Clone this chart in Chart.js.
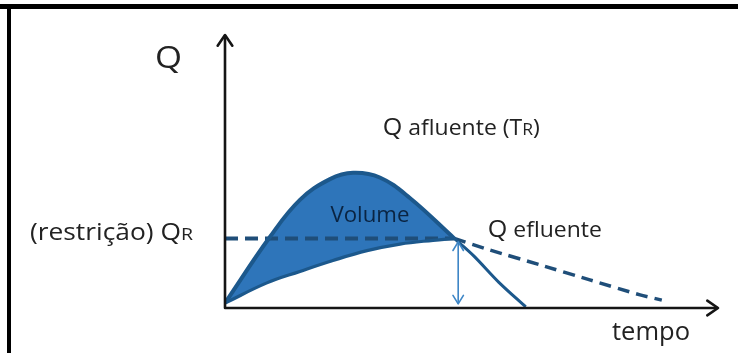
<!DOCTYPE html>
<html>
<head>
<meta charset="utf-8">
<script src="https://cdn.jsdelivr.net/npm/chart.js@4.4.1/dist/chart.umd.min.js"></script>
<style>
  html, body { margin: 0; padding: 0; background: #fff; }
  #wrap { width: 738px; height: 353px; }
</style>
</head>
<body>
<div id="wrap"><canvas id="hidro" width="738" height="353"></canvas></div>
<script>
// hidrograma afluente / efluente (unidades arbitrarias)
const inflowRiseT = [0, 0.91, 1.52, 2.13, 2.60, 3.14, 3.75, 4.65];
const inflowRiseQ = [0.18, 2.60, 3.96, 4.72, 4.95, 4.78, 4.03, 2.55];

const inflowFallT = [4.65, 5.05, 5.55, 6.10];
const inflowFallQ = [2.55, 1.90, 0.95, 0.04];

const outflowRiseT = [0, 0.85, 1.52, 2.19, 2.88, 3.55, 4.22, 4.65];
const outflowRiseQ = [0.18, 0.92, 1.34, 1.74, 2.10, 2.34, 2.48, 2.55];

const outflowFallT = [4.65, 5.38, 6.39, 7.40, 8.42, 8.86];
const outflowFallQ = [2.55, 2.12, 1.58, 1.03, 0.48, 0.29];

const restrT = [0, 4.65];
const restrQ = [2.55, 2.55];

const gapT = [4.73, 4.73];
const gapQ = [2.42, 0.15];

const axisMax = { x: 10, y: 10 };

function pts(ts, qs) {
  return ts.map((t, i) => ({ x: t, y: qs[i] }));
}

const fillBlue = 'rgb(46, 117, 186)';
const lineBlue = 'rgb(28, 88, 140)';
const dashBlue = 'rgb(31, 78, 121)';
const FONT = '"Open Sans", Lato, sans-serif';

// moldura da figura (barra superior e lateral)
const framePlugin = {
  id: 'frame',
  beforeDraw(chart) {
    const c = chart.ctx;
    c.save();
    c.fillStyle = '#000';
    c.fillRect(0, 4, chart.width, 5);
    c.fillRect(7, 4, 4, chart.height - 4);
    c.restore();
  }
};

function arrowHead(c, x, y, ang, len, spread) {
  c.beginPath();
  c.moveTo(x - len * Math.cos(ang - spread), y - len * Math.sin(ang - spread));
  c.lineTo(x, y);
  c.lineTo(x - len * Math.cos(ang + spread), y - len * Math.sin(ang + spread));
  c.stroke();
}

// eixos com setas
const axesPlugin = {
  id: 'axesArrows',
  afterDatasetsDraw(chart) {
    const c = chart.ctx;
    const xs = chart.scales.x, ys = chart.scales.y;
    const x0 = xs.getPixelForValue(0), y0 = ys.getPixelForValue(0);
    const x1 = xs.getPixelForValue(axisMax.x), y1 = ys.getPixelForValue(axisMax.y);
    c.save();
    c.strokeStyle = '#151515';
    c.lineWidth = 2.6;
    c.lineCap = 'round';
    c.lineJoin = 'round';
    c.beginPath();
    c.moveTo(x0, y1 + 1);
    c.lineTo(x0, y0);
    c.lineTo(x1 - 1, y0);
    c.stroke();
    arrowHead(c, x0, y1, -Math.PI / 2, 13, 0.6);
    arrowHead(c, x1, y0, 0, 13, 0.6);

    // seta dupla (Q efluente maximo)
    const meta = chart.getDatasetMeta(5);
    const a = meta.data[0], b = meta.data[1];
    c.strokeStyle = 'rgb(62, 134, 198)';
    c.lineWidth = 1.6;
    arrowHead(c, a.x, a.y, -Math.PI / 2, 10, 0.55);
    arrowHead(c, b.x, b.y, Math.PI / 2, 10, 0.55);
    c.restore();
  }
};

// texto com partes de tamanhos diferentes, ajustado na horizontal ate "width"
function drawParts(c, parts, x, y, align, width) {
  let w = 0;
  parts.forEach(p => { c.font = p.size + 'px ' + FONT; w += c.measureText(p.text).width; });
  const sx = width ? width / w : 1;
  const total = w * sx;
  const left = align === 'right' ? x - total : (align === 'center' ? x - total / 2 : x);
  c.save();
  c.translate(left, y);
  c.scale(sx, 1);
  let cx = 0;
  parts.forEach(p => {
    c.font = p.size + 'px ' + FONT;
    c.fillText(p.text, cx, 0);
    cx += c.measureText(p.text).width;
  });
  c.restore();
}

// textos da figura
const labelsPlugin = {
  id: 'labels',
  afterDraw(chart) {
    const c = chart.ctx;
    const X = v => chart.scales.x.getPixelForValue(v);
    const Y = v => chart.scales.y.getPixelForValue(v);
    c.save();
    c.textBaseline = 'alphabetic';
    c.fillStyle = '#222';
    drawParts(c, [{ text: 'Q', size: 31 }], X(-1.42), Y(8.79), 'left', 27);
    drawParts(c, [{ text: 'Q', size: 23 }, { text: ' afluente (T', size: 21 }, { text: 'R', size: 16 }, { text: ')', size: 21 }], X(3.20), Y(6.34), 'left', 157);
    drawParts(c, [{ text: '(restrição) Q', size: 23 }, { text: 'R', size: 17 }], X(-0.65), Y(2.49), 'right', 163);
    drawParts(c, [{ text: 'Q', size: 23 }, { text: ' efluente', size: 21 }], X(5.33), Y(2.60), 'left', 114);
    drawParts(c, [{ text: 'tempo', size: 25 }], X(7.85), Y(-1.17), 'left', 78);
    c.fillStyle = 'rgb(10, 36, 66)';
    drawParts(c, [{ text: 'Volume', size: 21 }], X(2.94), Y(3.15), 'center', 79);
    c.restore();
  }
};

const ctx = document.getElementById('hidro').getContext('2d');

const data = {
  datasets: [
    {
      label: 'Q afluente (subida)',
      data: pts(inflowRiseT, inflowRiseQ),
      borderColor: lineBlue,
      borderWidth: 4,
      backgroundColor: fillBlue,
      tension: 0.4,
      fill: { target: 1, above: fillBlue, below: fillBlue },
    },
    {
      label: 'Q efluente (subida)',
      data: pts(outflowRiseT, outflowRiseQ),
      borderColor: lineBlue,
      borderWidth: 3.2,
      tension: 0.4,
      fill: false,
    },
    {
      label: 'Q afluente (recessao)',
      data: pts(inflowFallT, inflowFallQ),
      borderColor: lineBlue,
      borderWidth: 3,
      tension: 0.3,
      fill: false,
    },
    {
      label: 'Q efluente (recessao)',
      data: pts(outflowFallT, outflowFallQ),
      borderColor: dashBlue,
      borderWidth: 3.5,
      borderDash: [12, 7],
      tension: 0.2,
      fill: false,
    },
    {
      label: 'QR',
      data: pts(restrT, restrQ),
      borderColor: dashBlue,
      borderWidth: 4,
      borderDash: [13, 7],
      fill: false,
    },
    {
      label: 'folga',
      data: pts(gapT, gapQ),
      borderColor: 'rgb(62, 134, 198)',
      borderWidth: 1.6,
      fill: false,
    },
  ]
};

const config = {
  type: 'line',
  data: data,
  options: {
    responsive: false,
    animation: false,
    devicePixelRatio: 1,
    layout: { padding: { left: 225, right: 20, top: 35, bottom: 45 } },
    elements: {
      point: { radius: 0, hoverRadius: 0 },
      line: { borderCapStyle: 'butt' }
    },
    scales: {
      x: { type: 'linear', min: 0, max: axisMax.x, display: false },
      y: { type: 'linear', min: 0, max: axisMax.y, display: false }
    },
    plugins: {
      legend: { display: false },
      tooltip: { enabled: false },
      filler: { drawTime: 'beforeDatasetsDraw' }
    }
  },
  plugins: [framePlugin, axesPlugin, labelsPlugin]
};

const hidroChart = new Chart(ctx, config);
</script>
</body>
</html>
